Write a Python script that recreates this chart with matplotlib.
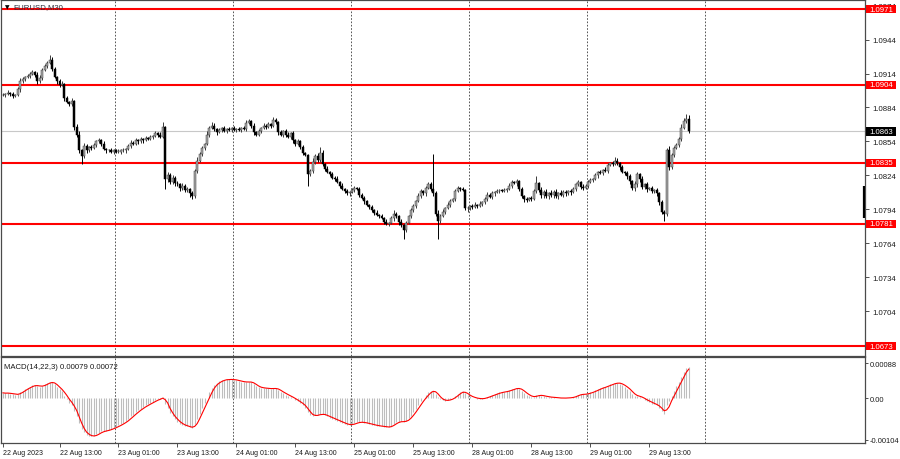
import numpy as np
import matplotlib
matplotlib.use("Agg")
import matplotlib.pyplot as plt
from matplotlib.patches import Rectangle
from matplotlib.transforms import blended_transform_factory as btf

# ---------------- data (prices in pips above BASE) ----------------
BASE = 1.0700
PIP = 0.0001
open_first_pips = 195
close_pips = [
    195, 196, 197, 196, 194, 195, 200, 207, 209, 211,
    212, 214, 215, 213, 207, 210, 217, 221, 223, 226,
    218, 211, 207, 204, 205, 192, 189, 187, 190, 167,
    160, 146, 141, 150, 146, 149, 148, 151, 154, 155,
    152, 147, 146, 146, 145, 146, 145, 145, 146, 146,
    147, 150, 153, 152, 155, 154, 156, 155, 157, 156,
    158, 159, 161, 160, 158, 167, 121, 124, 118, 122,
    117, 116, 113, 115, 111, 112, 108, 106, 128, 137,
    143, 148, 152, 160, 166, 168, 165, 162, 164, 166,
    163, 165, 164, 166, 164, 165, 164, 166, 165, 170,
    172, 168, 162, 160, 163, 166, 168, 167, 169, 168,
    173, 171, 162, 160, 163, 160, 158, 161, 155, 152,
    154, 149, 144, 142, 125, 128, 136, 141, 138, 144,
    134, 130, 127, 125, 122, 121, 118, 115, 112, 110,
    108, 109, 111, 113, 112, 107, 104, 101, 98, 96,
    93, 91, 89, 88, 86, 83, 81, 82, 86, 90,
    88, 83, 80, 76, 82, 88, 93, 97, 101, 106,
    110, 108, 113, 116, 112, 108, 90, 84, 88, 92,
    95, 98, 101, 103, 110, 113, 112, 111, 95, 95,
    97, 96, 98, 97, 99, 100, 103, 107, 105, 108,
    109, 110, 111, 110, 111, 112, 115, 118, 117, 119,
    112, 106, 103, 102, 104, 103, 110, 117, 111, 107,
    109, 106, 108, 107, 109, 106, 108, 107, 109, 108,
    110, 109, 112, 116, 118, 114, 113, 115, 118, 120,
    121, 124, 127, 126, 129, 128, 133, 135, 134, 137,
    135, 131, 127, 126, 123, 119, 113, 116, 125, 121,
    114, 116, 112, 113, 110, 111, 108, 100, 92, 90,
    146, 131, 142, 148, 151, 156, 166, 172, 174, 163,
]
upper_wick_pips = [
    2, 1, 2, 1, 2, 1, 2, 3, 2, 1, 2, 1, 2, 1, 2, 3, 2, 1, 2, 4,
    3, 2, 1, 2, 2, 1, 2, 1, 2, 1, 2, 3, 1, 3, 2, 1, 2, 2, 1, 2,
    1, 2, 1, 1, 2, 1, 1, 2, 1, 2, 1, 2, 2, 1, 2, 1, 2, 1, 2, 1,
    2, 1, 2, 1, 2, 4, 1, 3, 2, 2, 1, 2, 1, 2, 1, 2, 1, 2, 2, 3,
    2, 2, 1, 3, 2, 3, 2, 1, 2, 1, 2, 1, 2, 1, 2, 1, 2, 1, 2, 3,
    2, 1, 2, 1, 2, 1, 2, 1, 2, 1, 3, 2, 1, 2, 1, 2, 2, 1, 2, 1,
    2, 1, 2, 1, 1, 2, 3, 2, 3, 5, 2, 1, 2, 1, 2, 1, 2, 1, 2, 1,
    2, 1, 2, 2, 1, 2, 1, 2, 1, 1, 2, 1, 2, 1, 2, 1, 2, 1, 2, 3,
    2, 1, 2, 1, 2, 1, 2, 2, 1, 2, 2, 1, 2, 2, 2, 31, 2, 3, 2, 2,
    1, 2, 2, 1, 2, 2, 1, 2, 1, 2, 1, 2, 2, 1, 2, 1, 2, 2, 1, 2,
    1, 2, 1, 1, 2, 1, 2, 2, 1, 2, 1, 2, 1, 2, 1, 2, 2, 6, 1, 3,
    2, 3, 1, 3, 2, 3, 1, 3, 2, 2, 1, 2, 2, 1, 2, 1, 2, 1, 2, 2,
    1, 2, 1, 2, 1, 2, 2, 1, 2, 3, 2, 1, 2, 1, 2, 2, 1, 3, 2, 1,
    2, 1, 2, 1, 2, 1, 2, 1, 2, 1, 2, 4, 2, 2, 2, 2, 3, 3, 4, 3,
]
lower_wick_pips = [
    1, 2, 1, 2, 2, 1, 1, 2, 1, 2, 1, 2, 1, 2, 2, 1, 2, 1, 2, 1,
    2, 1, 2, 2, 1, 2, 1, 2, 2, 3, 2, 2, 7, 2, 2, 1, 2, 1, 2, 1,
    2, 1, 2, 1, 1, 2, 1, 1, 2, 1, 2, 1, 2, 1, 1, 2, 1, 2, 1, 1,
    1, 2, 1, 2, 1, 1, 9, 3, 2, 2, 2, 1, 3, 2, 2, 2, 3, 3, 2, 2,
    1, 2, 2, 1, 2, 1, 2, 2, 1, 2, 1, 2, 1, 2, 1, 2, 1, 2, 1, 2,
    1, 2, 2, 1, 1, 2, 1, 2, 1, 2, 1, 2, 2, 1, 2, 2, 1, 2, 2, 2,
    1, 2, 2, 1, 10, 2, 2, 2, 2, 2, 2, 2, 1, 2, 1, 2, 1, 2, 1, 2,
    1, 2, 1, 2, 1, 2, 1, 2, 1, 2, 1, 2, 1, 2, 1, 2, 1, 2, 1, 2,
    2, 3, 2, 8, 2, 1, 2, 1, 2, 1, 2, 1, 2, 1, 2, 2, 2, 16, 2, 1,
    2, 1, 2, 1, 2, 1, 2, 1, 2, 3, 2, 2, 1, 2, 1, 2, 1, 2, 1, 2,
    2, 1, 2, 1, 1, 2, 1, 2, 1, 2, 2, 2, 3, 2, 1, 2, 1, 2, 2, 3,
    3, 2, 3, 2, 3, 2, 3, 1, 2, 2, 1, 2, 1, 2, 1, 2, 2, 1, 2, 1,
    2, 1, 2, 1, 2, 1, 2, 1, 2, 1, 2, 2, 1, 2, 2, 3, 2, 3, 2, 3,
    2, 2, 3, 1, 2, 2, 2, 2, 2, 6, 2, 2, 1, 2, 1, 2, 2, 1, 2, 2,
]

symbol_title = "EURUSD,M30"
levels = [1.0971, 1.0904, 1.0835, 1.0781, 1.0673]
last_price = 1.0863
price_ticks = [1.0974, 1.0944, 1.0914, 1.0884, 1.0854, 1.0824,
               1.0794, 1.0764, 1.0734, 1.0704, 1.0674]
date_label_bars = [0, 23, 47, 71, 95, 119, 143, 167, 191, 215, 239, 263]
date_labels = ["22 Aug 2023", "22 Aug 13:00", "23 Aug 01:00", "23 Aug 13:00",
               "24 Aug 01:00", "24 Aug 13:00", "25 Aug 01:00", "25 Aug 13:00",
               "28 Aug 01:00", "28 Aug 13:00", "29 Aug 01:00", "29 Aug 13:00"]
day_start_bars = [45.5, 93.5, 141.5, 189.5, 237.5, 285.5]
macd_fast, macd_slow, macd_signal = 14, 22, 3
ema_seed_fast, ema_seed_slow = 1.08950, 1.08935
macd_ticks = [0.00088, 0.0, -0.00104]
macd_tick_labels = ["0.00088", "0.00", "-0.00104"]
macd_caption = "MACD(14,22,3) 0.00079 0.00072"
side_bar = (1.0786, 1.0815)

# ---------------- derived series ----------------
closes = BASE + np.array(close_pips, dtype=float) * PIP
opens = np.concatenate([[BASE + open_first_pips * PIP], closes[:-1]])
highs = np.maximum(opens, closes) + np.array(upper_wick_pips) * PIP
lows = np.minimum(opens, closes) - np.array(lower_wick_pips) * PIP
N = len(closes)
x = np.arange(N)


def ema(values, n, seed):
    a = 2.0 / (n + 1)
    out = np.empty_like(values)
    prev = seed
    for i, v in enumerate(values):
        prev = prev + a * (v - prev)
        out[i] = prev
    return out


macd_main = ema(closes, macd_fast, ema_seed_fast) - ema(closes, macd_slow, ema_seed_slow)
macd_sig = np.convolve(macd_main, np.ones(macd_signal) / macd_signal, mode="full")[:N]
macd_sig[:macd_signal - 1] = macd_main[:macd_signal - 1]

# ---------------- figure ----------------
W, H = 900, 460
fig = plt.figure(figsize=(W / 100, H / 100), dpi=100)
plt.rcParams["font.family"] = ["Liberation Sans", "DejaVu Sans"]
plt.rcParams["axes.unicode_minus"] = False


def rect(x0, y0, x1, y1):
    return [x0 / W, 1 - y1 / H, (x1 - x0) / W, (y1 - y0) / H]


AX_W_PX = 864.0
MAIN_H_PX = 356.0
ax = fig.add_axes(rect(1, 1, 865, 357))
axm = fig.add_axes(rect(1, 358, 865, 444))
XMIN, XMAX = -0.8, 350.7
YMIN, YMAX = 1.06643, 1.09790
TXT = "#1a1a1a"
for a in (ax, axm):
    a.set_xlim(XMIN, XMAX)
    a.set_facecolor("white")
    for s in a.spines.values():
        s.set_color("#4a4a4a")
        s.set_linewidth(0.9)
    for b in day_start_bars:
        a.axvline(b, color="#3a3a3a", lw=0.6, ls=(0, (2, 2)), zorder=1)

ax.set_ylim(YMIN, YMAX)

# level lines
for lv in levels:
    ax.axhline(lv, color="#ff0000", lw=1.5, zorder=2)
ax.axhline(last_price, color="#c8c8c8", lw=0.8, zorder=1.5)

# candles
bull = closes >= opens
wick_cols = np.where(bull, "#3a3a3a", "#000000")
ax.vlines(x, lows, highs, colors=wick_cols, lw=0.7, zorder=3)
body_h = np.maximum(np.abs(closes - opens), 0.4 * PIP)
body_b = np.minimum(opens, closes)
ax.bar(x[bull], body_h[bull], bottom=body_b[bull], width=0.8,
       color="#a8a8a8", edgecolor="#3c3c3c", linewidth=0.35, zorder=4)
ax.bar(x[~bull], body_h[~bull], bottom=body_b[~bull], width=0.8,
       color="#000000", edgecolor="#000000", linewidth=0.35, zorder=4)

# side marker at right edge
ax.plot([XMAX - 0.6, XMAX - 0.6], side_bar, color="#000000", lw=1.6,
        solid_capstyle="butt", zorder=5)

# price axis
ax.set_xticks([])
ax.yaxis.tick_right()
ax.set_yticks(price_ticks)
ax.set_yticklabels([f"{t:.4f}" for t in price_ticks])
ax.tick_params(axis="y", direction="out", length=3, width=0.6, colors="#333333",
               labelsize=5.6, pad=2, labelcolor=TXT)

tr = btf(ax.transAxes, ax.transData)
box_w = 30.0 / AX_W_PX
box_hh = 4.3 * (YMAX - YMIN) / MAIN_H_PX


def price_tag(val, face):
    ax.add_patch(Rectangle((1.0015, val - box_hh), box_w, 2 * box_hh,
                           transform=tr, facecolor=face, edgecolor="none",
                           clip_on=False, zorder=9))
    ax.text(1.0015 + box_w / 2, val, f"{val:.4f}", transform=tr, color="white",
            fontsize=5.6, va="center", ha="center", clip_on=False, zorder=10)


for lv in levels:
    price_tag(lv, "#ff0000")
price_tag(last_price, "#000000")

ax.text(0.0045, 0.982, "\u25BC", transform=ax.transAxes, fontsize=4.2,
        color="#000000", va="center", ha="left", family="DejaVu Sans", zorder=11)
ax.text(0.0145, 0.982, symbol_title, transform=ax.transAxes, fontsize=5.6,
        color="#2a2a3a", va="center", ha="left", zorder=11)

# MACD pane
axm.set_ylim(-0.001123, 0.001038)
axm.vlines(x, 0, macd_main, colors="#bdbdbd", lw=0.8, zorder=2)
axm.plot(x, macd_sig, color="#ff0000", lw=0.8, zorder=3)
axm.yaxis.tick_right()
axm.set_yticks(macd_ticks)
axm.set_yticklabels(macd_tick_labels)
axm.tick_params(axis="y", direction="out", length=2.5, width=0.6, colors="#333333",
                labelsize=5.4, pad=1, labelcolor=TXT)
axm.set_xticks(date_label_bars)
axm.set_xticklabels(date_labels)
axm.tick_params(axis="x", direction="out", length=3, width=0.6, colors="#333333",
                labelsize=5.0, pad=1.5, labelcolor=TXT)
for lab in axm.get_xticklabels():
    lab.set_ha("left")
axm.text(0.004, 0.93, macd_caption, transform=axm.transAxes, fontsize=5.6,
         color=TXT, va="top", ha="left", zorder=5)

fig.savefig("out.png", dpi=100, facecolor="white")
